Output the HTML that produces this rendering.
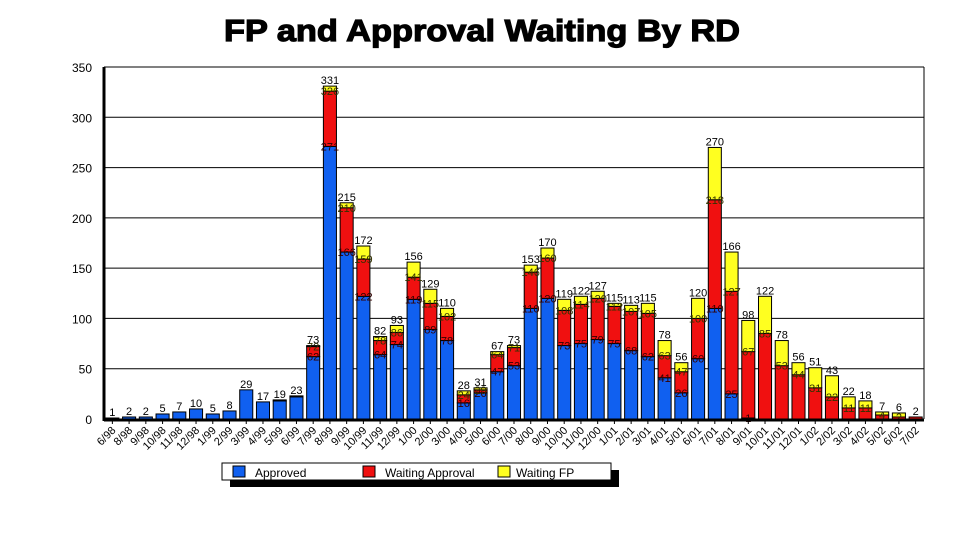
<!DOCTYPE html>
<html><head><meta charset="utf-8"><style>
body{margin:0;background:#fff;}
svg text{font-family:"Liberation Sans",Arial,sans-serif;}
</style></head><body>
<svg id="c" width="959" height="535" xmlns="http://www.w3.org/2000/svg">
<text x="224" y="41" textLength="516" lengthAdjust="spacingAndGlyphs" font-size="31" font-weight="bold" stroke="#000" stroke-width="1.2" fill="#000">FP and Approval Waiting By RD</text>
<g id="grid"></g><g id="bars"></g><g id="labels"></g><g id="axes"></g>
<g>
<rect x="230" y="470" width="389" height="17" fill="#000"/>
<rect x="222" y="463" width="389" height="17" fill="#fff" stroke="#000" stroke-width="1"/>
<g><rect x="233" y="466" width="12" height="11" fill="#1060f0" stroke="#000"/><text x="255" y="477" font-size="12">Approved</text></g>
<g><rect x="363" y="466" width="12" height="11" fill="#f01010" stroke="#000"/><text x="385" y="477" font-size="12">Waiting Approval</text></g>
<g><rect x="498" y="466" width="12" height="11" fill="#ffff20" stroke="#000"/><text x="516" y="477" font-size="12">Waiting FP</text></g>
</g>
</svg>
<script>
const categories=["6/98","8/98","9/98","10/98","11/98","12/98","1/99","2/99","3/99","4/99","5/99","6/99","7/99","8/99","9/99","10/99","11/99","12/99","1/00","2/00","3/00","4/00","5/00","6/00","7/00","8/00","9/00","10/00","11/00","12/00","1/01","2/01","3/01","4/01","5/01","6/01","7/01","8/01","9/01","10/01","11/01","12/01","1/02","2/02","3/02","4/02","5/02","6/02","7/02"];
const approved=[1,2,2,5,7,10,5,8,29,17,18,22,62,271,166,122,64,74,119,89,78,16,26,47,53,110,120,73,75,79,75,68,62,41,26,60,110,25,1,0,0,0,0,0,0,0,0,0,0];
const approvedPlusWaiting=[1,2,2,5,7,10,5,8,29,17,18,22,72,326,210,159,78,86,141,115,102,24,29,64,71,146,160,108,114,120,112,107,105,63,47,100,218,127,67,85,53,44,31,22,11,11,4,2,2];
const totals=[1,2,2,5,7,10,5,8,29,17,19,23,73,331,215,172,82,93,156,129,110,28,31,67,73,153,170,119,122,127,115,113,115,78,56,120,270,166,98,122,78,56,51,43,22,18,7,6,2];
const yTicks=[0,50,100,150,200,250,300,350];
const NS="http://www.w3.org/2000/svg";
const X0=104,X1=924,Y0=419,YT=67,MAX=350;
const bw=(X1-X0)/categories.length;
const y=v=>Y0-v*(Y0-YT)/MAX;
const xc=i=>X0+(i+0.5)*bw;
function mk(tag,attrs,parent,txt){const e=document.createElementNS(NS,tag);for(const k in attrs)e.setAttribute(k,attrs[k]);if(txt!==undefined)e.textContent=txt;document.getElementById(parent).appendChild(e);return e;}
yTicks.forEach(t=>{
  const l=mk('line',{x1:X0,x2:X1,y1:y(t),y2:y(t),stroke:'#000','stroke-width':1},'grid');
  
  
  const tx=mk('text',{x:92,y:y(t)+5,'text-anchor':'end','font-size':12},'axes',String(t));
  
  
});
mk('line',{x1:X1,x2:X1,y1:YT,y2:Y0,stroke:'#000'},'axes');
mk('line',{x1:X0,x2:X0,y1:YT,y2:Y0+2,stroke:'#000','stroke-width':3},'axes');
mk('line',{x1:X0,x2:X1,y1:Y0+1,y2:Y0+1,stroke:'#000','stroke-width':3},'axes');
const w=bw*0.78;
categories.forEach((c,i)=>{
  const x=xc(i)-w/2;
  const segs=[[0,approved[i],'#1060f0','bar-approved'],[approved[i],approvedPlusWaiting[i],'#f01010','bar-waiting-approval'],[approvedPlusWaiting[i],totals[i],'#ffff20','bar-waiting-fp']];
  segs.forEach(s=>{
    if(s[1]>s[0]){
      const r=mk('rect',{x:x,y:y(s[1]),width:w,height:y(s[0])-y(s[1]),fill:s[2],stroke:'#000','stroke-width':1},'bars');
      
      
    }
  });
  if(approved[i]>0&&approved[i]<approvedPlusWaiting[i]){
    const t=mk('text',{x:xc(i),y:y(approved[i])+4,'text-anchor':'middle','font-size':11,fill:'#300'},'labels',String(approved[i]));
    
    
  }
  if(approvedPlusWaiting[i]<totals[i]&&approvedPlusWaiting[i]>approved[i]){
    const t=mk('text',{x:xc(i),y:y(approvedPlusWaiting[i])+4,'text-anchor':'middle','font-size':11,fill:'#330'},'labels',String(approvedPlusWaiting[i]));
    
    
  }
  const tt=mk('text',{x:xc(i),y:y(totals[i])-2,'text-anchor':'middle','font-size':11},'labels',String(totals[i]));
  
  
  mk('line',{x1:xc(i),x2:xc(i),y1:Y0+2,y2:Y0+5,stroke:'#000'},'axes');
  const xl=mk('text',{x:0,y:0,'text-anchor':'end','font-size':11,transform:`translate(${xc(i)+4},${Y0+12}) rotate(-45)`},'axes',c);
  
  
});
</script>
</body></html>
